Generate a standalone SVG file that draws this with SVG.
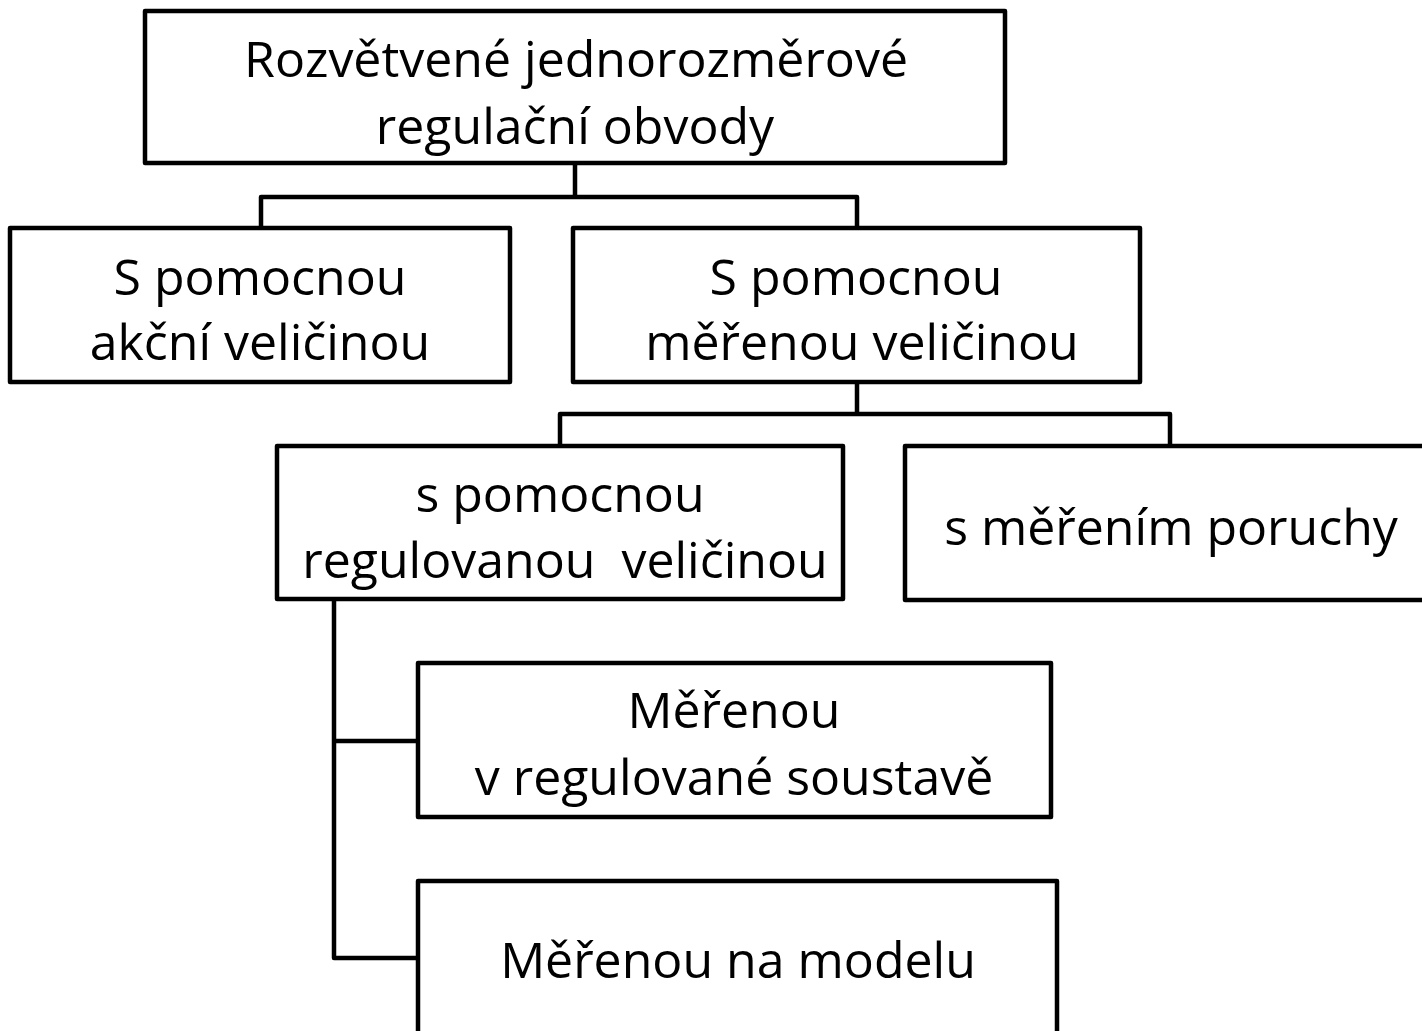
<svg xmlns="http://www.w3.org/2000/svg" width="1422" height="1031" viewBox="0 0 1422 1031">
<style>
.box{fill:#fff;stroke:#000;stroke-width:4.5;stroke-linejoin:round}
.t{font-family:"Open Sans","Noto Sans",sans-serif;font-size:50px;fill:#000;text-anchor:middle}
.c{fill:none;stroke:#000;stroke-width:4.5;stroke-linejoin:round}
</style>
<rect width="1422" height="1031" fill="#fff"/>
<g id="connectors">
<path class="c" d="M575,163 V197 H261 V228 M575,197 H857 V228"/>
<path class="c" d="M857,382 V414 H560 V446 M857,414 H1170 V446"/>
<path class="c" d="M334,599 V958 H418 M334,741 H418"/>
</g>
<g id="n1"><rect class="box" x="145" y="11" width="860" height="152"/>
<text class="t" x="576" y="77">Rozvětvené jednorozměrové</text>
<text class="t" x="575" y="144">regulační obvody</text></g>
<g id="n2"><rect class="box" x="10" y="228" width="500" height="154"/>
<text class="t" x="260" y="295">S pomocnou</text>
<text class="t" x="260" y="360">akční veličinou</text></g>
<g id="n3"><rect class="box" x="573" y="228" width="567" height="154"/>
<text class="t" x="856" y="295">S pomocnou</text>
<text class="t" x="862" y="360">měřenou veličinou</text></g>
<g id="n4"><rect class="box" x="277" y="446" width="566" height="153"/>
<text class="t" x="560" y="512">s pomocnou</text>
<text class="t" x="565" y="578" xml:space="preserve">regulovanou  veličinou</text></g>
<g id="n5"><rect class="box" x="905" y="446" width="530" height="154"/>
<text class="t" x="1171" y="545">s měřením poruchy</text></g>
<g id="n6"><rect class="box" x="418" y="663" width="633" height="154"/>
<text class="t" x="734" y="728">Měřenou</text>
<text class="t" x="734" y="795">v regulované soustavě</text></g>
<g id="n7"><rect class="box" x="418" y="881" width="639" height="170"/>
<text class="t" x="738" y="978">Měřenou na modelu</text></g>
</svg>
